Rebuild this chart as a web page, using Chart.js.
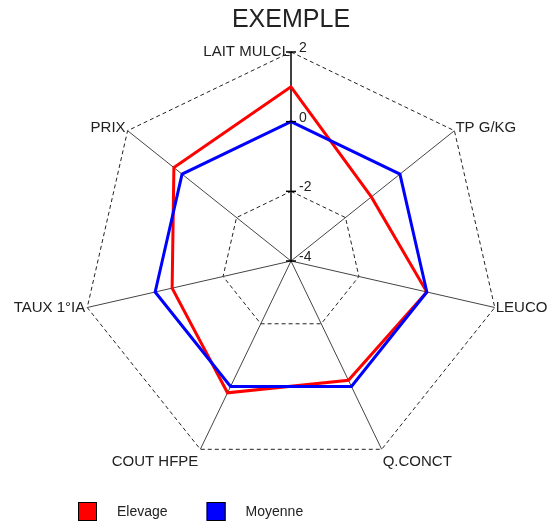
<!DOCTYPE html>
<html>
<head>
<meta charset="utf-8">
<script src="https://cdn.jsdelivr.net/npm/chart.js@4/dist/chart.umd.min.js"></script>
<style>
  body { margin: 0; background: #fff; }
</style>
</head>
<body>
<canvas id="myRadar" width="552" height="526"></canvas>
<script>
var axisLabels = ["LAIT MULCL", "TP G/KG", "LEUCO", "Q.CONCT", "COUT HFPE", "TAUX 1°IA", "PRIX"];
var elevage = [1.0, -1.05, 0, -0.2, 0.2, -0.5, 0.3];
var moyenne = [0, 0, 0, 0, 0, 0, 0];
var tickLabels = ["-4", "-2", "0", "2"];

var FONT = "'Liberation Sans', Arial, sans-serif";

// axis names, tick values and legend drawn by hand so they sit like the original
var radarText = {
  id: "radarText",
  afterDraw: function (chart) {
    var ctx = chart.ctx;
    var s = chart.scales.r;
    ctx.save();
    ctx.fillStyle = "#222";

    // point labels
    ctx.font = "15px " + FONT;
    chart.data.labels.forEach(function (lbl, i) {
      var p = s.getPointPosition(i, s.drawingArea);
      if (Math.abs(p.x - s.xCenter) < 2) {
        ctx.textAlign = "right";
        ctx.textBaseline = "alphabetic";
        ctx.fillText(lbl, p.x - 1, p.y + 4);
        return;
      }
      var right = p.x > s.xCenter;
      ctx.textAlign = right ? "left" : "right";
      var x = right ? p.x + 1 : p.x - 2;
      if (p.y < s.yCenter - 50) {
        ctx.textBaseline = "alphabetic";
        ctx.fillText(lbl, x, p.y + 1);
      } else if (p.y > s.yCenter + 100) {
        ctx.textBaseline = "top";
        ctx.fillText(lbl, x, p.y + 5);
      } else {
        ctx.textBaseline = "middle";
        ctx.fillText(lbl, x, p.y);
      }
    });

    // tick marks + values on the vertical axis
    ctx.font = "14px " + FONT;
    ctx.textAlign = "left";
    ctx.textBaseline = "alphabetic";
    ctx.strokeStyle = "#000";
    ctx.lineWidth = 1.5;
    s.ticks.forEach(function (t, i) {
      var y = s.yCenter - s.getDistanceFromCenterForValue(t.value);
      ctx.beginPath();
      ctx.moveTo(s.xCenter - 5, y);
      ctx.lineTo(s.xCenter + 5, y);
      ctx.stroke();
      ctx.fillText(tickLabels[i], s.xCenter + 8, y);
    });

    // legend
    ctx.font = "14px " + FONT;
    ctx.textBaseline = "middle";
    ctx.lineWidth = 1;
    var x = 78;
    chart.data.datasets.forEach(function (ds) {
      ctx.fillStyle = ds.borderColor;
      ctx.fillRect(x, 502, 19, 19);
      ctx.strokeStyle = "#000";
      ctx.strokeRect(x + 0.5, 502.5, 18, 18);
      ctx.fillStyle = "#222";
      ctx.fillText(ds.label, x + 39, 512);
      x = x + 39 + ctx.measureText(ds.label).width + 39;
    });
    ctx.restore();
  }
};

new Chart("myRadar", {
  type: "radar",
  data: {
    labels: axisLabels,
    datasets: [{
      label: "Elevage",
      data: elevage,
      borderColor: "#ff0000",
      borderWidth: 3,
      fill: false,
      pointRadius: 0,
      order: 2
    }, {
      label: "Moyenne",
      data: moyenne,
      borderColor: "#0000ff",
      borderWidth: 3,
      fill: false,
      pointRadius: 0,
      order: 1
    }]
  },
  options: {
    responsive: false,
    animation: false,
    layout: { padding: { left: 82, right: 52, top: 0, bottom: 56 } },
    plugins: {
      legend: { display: false },
      tooltip: { enabled: false },
      title: {
        display: true,
        text: "EXEMPLE",
        color: "#222",
        font: { family: FONT, size: 25, weight: "normal" },
        padding: { top: 5, bottom: 17 }
      }
    },
    elements: { line: { tension: 0 } },
    scales: {
      r: {
        min: -4,
        max: 2,
        ticks: { stepSize: 2, display: false },
        pointLabels: { display: false },
        grid: { color: "#222", lineWidth: 1 },
        border: { dash: [4, 3] },
        angleLines: {
          color: function (c) { return c.index === 0 ? "#000" : "#444"; },
          lineWidth: function (c) { return c.index === 0 ? 1.5 : 1; }
        }
      }
    }
  },
  plugins: [radarText]
});
</script>
</body>
</html>
